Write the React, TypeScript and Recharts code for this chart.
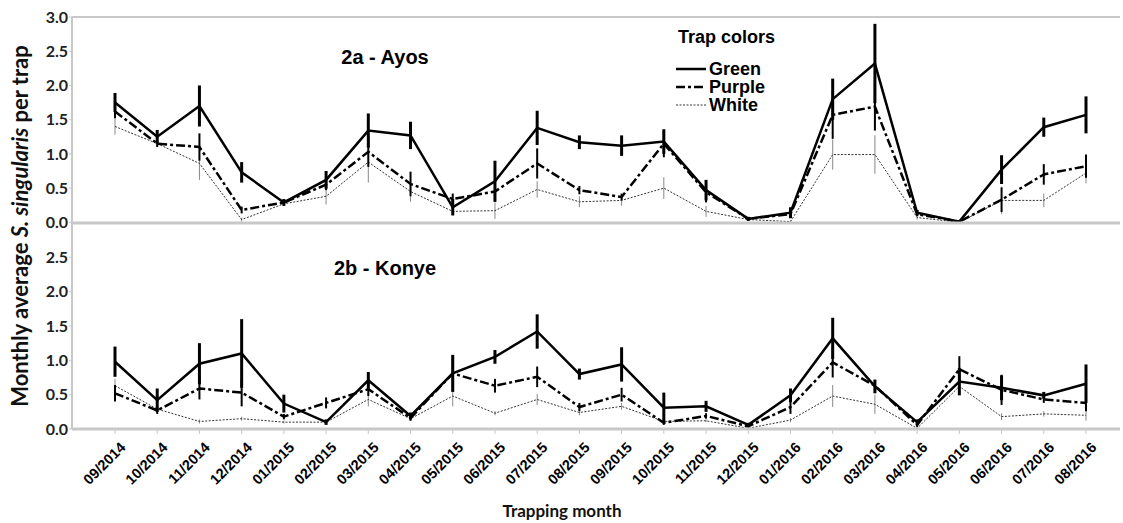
import React from 'react';
import { LineChart, Line, XAxis, YAxis, ErrorBar, ReferenceLine } from 'recharts';

const months = [
  '09/2014', '10/2014', '11/2014', '12/2014', '01/2015', '02/2015', '03/2015', '04/2015',
  '05/2015', '06/2015', '07/2015', '08/2015', '09/2015', '10/2015', '11/2015', '12/2015',
  '01/2016', '02/2016', '03/2016', '04/2016', '05/2016', '06/2016', '07/2016', '08/2016',
];

// 2a - Ayos
const ayosGreen = [1.75, 1.25, 1.7, 0.73, 0.29, 0.62, 1.34, 1.27, 0.22, 0.6, 1.38, 1.17, 1.12, 1.18, 0.47, 0.05, 0.14, 1.8, 2.32, 0.14, 0.01, 0.77, 1.39, 1.57];
const ayosGreenErr = [0.14, 0.1, 0.3, 0.15, 0.05, 0.13, 0.25, 0.2, 0.12, 0.3, 0.25, 0.1, 0.15, 0.18, 0.15, 0.03, 0.08, 0.3, 0.58, 0.04, 0.02, 0.21, 0.14, 0.27];
const ayosPurple = [1.62, 1.15, 1.1, 0.18, 0.29, 0.55, 1.03, 0.56, 0.34, 0.45, 0.86, 0.47, 0.37, 1.15, 0.44, 0.05, 0.12, 1.57, 1.69, 0.12, 0.01, 0.33, 0.7, 0.82];
const ayosPurpleErr = [0.1, 0.05, 0.2, 0.05, 0.04, 0.08, 0.22, 0.18, 0.08, 0.15, 0.22, 0.06, 0.05, 0.2, 0.15, 0.02, 0.05, 0.35, 0.35, 0.03, 0.01, 0.18, 0.15, 0.17];
const ayosWhite = [1.4, 1.15, 0.86, 0.04, 0.27, 0.38, 0.88, 0.45, 0.16, 0.17, 0.48, 0.3, 0.32, 0.5, 0.16, 0.04, 0.01, 0.99, 0.99, 0.07, 0.0, 0.32, 0.32, 0.72];
const ayosWhiteErr = [0.12, 0.05, 0.24, 0.03, 0.03, 0.12, 0.3, 0.15, 0.05, 0.12, 0.12, 0.08, 0.08, 0.16, 0.08, 0.02, 0.02, 0.22, 0.28, 0.03, 0.01, 0.2, 0.1, 0.15];

// 2b - Konye
const konyeGreen = [0.98, 0.42, 0.95, 1.1, 0.37, 0.1, 0.71, 0.19, 0.81, 1.05, 1.42, 0.8, 0.94, 0.31, 0.33, 0.06, 0.49, 1.32, 0.62, 0.1, 0.69, 0.6, 0.49, 0.66];
const konyeGreenErr = [0.22, 0.17, 0.3, 0.5, 0.13, 0.04, 0.12, 0.05, 0.27, 0.1, 0.25, 0.08, 0.25, 0.22, 0.08, 0.03, 0.1, 0.3, 0.1, 0.04, 0.2, 0.18, 0.05, 0.28];
const konyePurple = [0.52, 0.27, 0.59, 0.53, 0.18, 0.38, 0.58, 0.16, 0.81, 0.63, 0.76, 0.32, 0.5, 0.09, 0.19, 0.04, 0.32, 0.97, 0.63, 0.06, 0.87, 0.57, 0.43, 0.38];
const konyePurpleErr = [0.12, 0.05, 0.16, 0.2, 0.04, 0.08, 0.1, 0.04, 0.25, 0.1, 0.15, 0.06, 0.1, 0.03, 0.04, 0.02, 0.1, 0.22, 0.08, 0.03, 0.19, 0.22, 0.05, 0.12];
const konyeWhite = [0.63, 0.29, 0.11, 0.15, 0.1, 0.1, 0.43, 0.15, 0.48, 0.23, 0.43, 0.24, 0.33, 0.11, 0.12, 0.01, 0.13, 0.48, 0.36, 0.01, 0.62, 0.18, 0.22, 0.2];
const konyeWhiteErr = [0.1, 0.04, 0.03, 0.03, 0.02, 0.02, 0.1, 0.03, 0.15, 0.03, 0.08, 0.04, 0.05, 0.02, 0.02, 0.01, 0.03, 0.16, 0.14, 0.01, 0.1, 0.05, 0.04, 0.08];

const topTicks = [0, 0.5, 1, 1.5, 2, 2.5, 3];
const bottomTicks = [0, 0.5, 1, 1.5, 2, 2.5];

const ayosData = months.map((m, i) => ({
  month: m,
  g: ayosGreen[i], ge: ayosGreenErr[i],
  p: ayosPurple[i], pe: ayosPurpleErr[i],
  w: ayosWhite[i], we: ayosWhiteErr[i],
}));

const konyeData = months.map((m, i) => ({
  month: m,
  g: konyeGreen[i], ge: konyeGreenErr[i],
  p: konyePurple[i], pe: konyePurpleErr[i],
  w: konyeWhite[i], we: konyeWhiteErr[i],
}));

const GRID = '#c8c8c8';
const calibri = 'Lato, "Open Sans", sans-serif';
const arial = '"Liberation Sans", Arial, sans-serif';

const yTick = { fill: '#222', fontSize: 16, fontFamily: calibri, fontWeight: 700 };

function AngledTick({ x, y, payload }: any) {
  return (
    <text
      x={x + 4}
      y={y + 5}
      transform={`rotate(-45, ${x + 4}, ${y + 5})`}
      textAnchor="end"
      dominantBaseline="hanging"
      fontFamily={arial}
      fontWeight={700}
      fontSize={14.5}
      fill="#000"
    >
      {payload.value}
    </text>
  );
}

function Series() {
  return [
    <Line key="w" dataKey="w" type="linear" stroke="#333" strokeWidth={1} strokeDasharray="2 1.5" dot={false} isAnimationActive={false}>
      <ErrorBar dataKey="we" width={0} stroke="#888" strokeWidth={1} direction="y" isAnimationActive={false} />
    </Line>,
    <Line key="p" dataKey="p" type="linear" stroke="#000" strokeWidth={2.5} strokeDasharray="9 3 3 3" dot={false} isAnimationActive={false}>
      <ErrorBar dataKey="pe" width={0} stroke="#000" strokeWidth={2} direction="y" isAnimationActive={false} />
    </Line>,
    <Line key="g" dataKey="g" type="linear" stroke="#000" strokeWidth={2.5} dot={false} isAnimationActive={false}>
      <ErrorBar dataKey="ge" width={0} stroke="#000" strokeWidth={3} direction="y" isAnimationActive={false} />
    </Line>,
  ];
}

function LegendRow({ label, dash, width, color }: { label: string; dash?: string; width: number; color: string }) {
  return (
    <div style={{ display: 'flex', alignItems: 'center', height: 18 }}>
      <svg width={30} height={10} style={{ marginRight: 3 }}>
        <line x1={0} y1={5} x2={30} y2={5} stroke={color} strokeWidth={width} strokeDasharray={dash} />
      </svg>
      <span style={{ lineHeight: '17px' }}>{label}</span>
    </div>
  );
}

export default function App() {
  return (
    <div style={{ position: 'absolute', left: 0, top: 0, width: 1123, height: 523, background: '#fff' }}>
      <div style={{ position: 'absolute', left: 0, top: 0 }}>
        <LineChart width={1123} height={240} data={ayosData} margin={{ top: 17, right: 3, bottom: 16, left: 32 }}>
          <XAxis dataKey="month" height={1} tick={false} tickLine={false} axisLine={{ stroke: GRID, strokeWidth: 3 }} padding={{ left: 43, right: 34 }} />
          <YAxis width={40} domain={[0, 3]} ticks={topTicks} tickFormatter={(v: number) => v.toFixed(1)} tick={yTick} tickSize={3} tickMargin={1} tickLine={{ stroke: GRID }} axisLine={{ stroke: GRID, strokeWidth: 2 }} />
          <ReferenceLine y={3} stroke={GRID} strokeWidth={2} />
          {Series()}
        </LineChart>
      </div>

      <div style={{ position: 'absolute', left: 0, top: 223 }}>
        <LineChart width={1123} height={290} data={konyeData} margin={{ top: 0, right: 3, bottom: 0, left: 32 }}>
          <XAxis dataKey="month" height={84} interval={0} tick={<AngledTick />} tickSize={5} tickLine={{ stroke: GRID }} axisLine={{ stroke: GRID, strokeWidth: 3 }} padding={{ left: 43, right: 34 }} />
          <YAxis width={40} domain={[0, 3]} ticks={bottomTicks} tickFormatter={(v: number) => v.toFixed(1)} tick={yTick} tickSize={3} tickMargin={1} tickLine={{ stroke: GRID }} axisLine={{ stroke: GRID, strokeWidth: 2 }} />
          {Series()}
        </LineChart>
      </div>

      <div style={{ position: 'absolute', left: 385, top: 57, transform: 'translate(-50%, -50%)', fontFamily: arial, fontWeight: 700, fontSize: 20, whiteSpace: 'nowrap' }}>
        2a - Ayos
      </div>
      <div style={{ position: 'absolute', left: 385, top: 268, transform: 'translate(-50%, -50%)', fontFamily: arial, fontWeight: 700, fontSize: 20, whiteSpace: 'nowrap' }}>
        2b - Konye
      </div>

      <div style={{ position: 'absolute', left: 676, top: 28, fontFamily: arial, fontWeight: 700, fontSize: 18, lineHeight: '18px' }}>
        <div style={{ marginLeft: 2, marginBottom: 14 }}>Trap colors</div>
        <LegendRow label="Green" width={2.5} color="#000" />
        <LegendRow label="Purple" width={2.5} color="#000" dash="9 3 3 3" />
        <LegendRow label="White" width={1} color="#333" dash="2 1.5" />
      </div>

      <div style={{ position: 'absolute', left: 19, top: 226, transform: 'translate(-50%, -50%) rotate(-90deg)', fontFamily: calibri, fontWeight: 700, fontSize: 22, whiteSpace: 'nowrap', color: '#111' }}>
        Monthly average <i>S. singularis</i> per trap
      </div>
      <div style={{ position: 'absolute', left: 562, top: 510, transform: 'translate(-50%, -50%)', fontFamily: calibri, fontWeight: 700, fontSize: 17, whiteSpace: 'nowrap', color: '#111' }}>
        Trapping month
      </div>
    </div>
  );
}
